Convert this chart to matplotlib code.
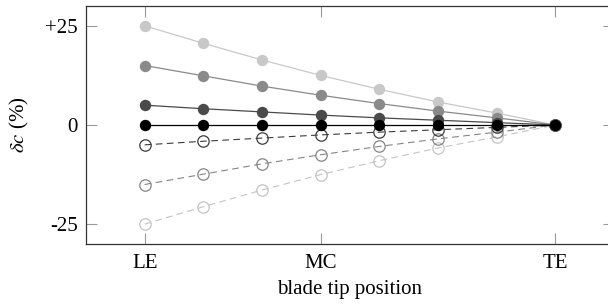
import numpy as np
import matplotlib
matplotlib.use("Agg")
import matplotlib.pyplot as plt

plt.rcParams['font.family'] = ['Liberation Serif', 'DejaVu Serif']
plt.rcParams['mathtext.fontset'] = 'stix'

# blade tip positions, LE = 0, TE = 1 (8 equally spaced stations)
pos = np.arange(8) / 7.0

# chord change (%)
dc_p25 = [25, 20.6, 16.4, 12.5, 9.0, 5.8, 3.0, 0]
dc_p15 = [15, 12.4, 9.8, 7.5, 5.4, 3.5, 1.8, 0]
dc_p05 = [5, 4.1, 3.3, 2.5, 1.8, 1.2, 0.6, 0]
dc_zero = [0, 0, 0, 0, 0, 0, 0, 0]
dc_m05 = [-5, -4.1, -3.3, -2.5, -1.8, -1.2, -0.6, 0]
dc_m15 = [-15, -12.4, -9.8, -7.5, -5.4, -3.5, -1.8, 0]
dc_m25 = [-25, -20.6, -16.4, -12.5, -9.0, -5.8, -3.0, 0]

xtick_pos = [0, 3 / 7.0, 1]
xtick_lab = ["LE", "MC", "TE"]
ytick_pos = [25, 0, -25]
ytick_lab = ["+25", "0", "-25"]

fig = plt.figure(figsize=(6.08, 3.07), dpi=100)
ax = fig.add_axes([86 / 608, 1 - 244 / 307, (614 - 86) / 608, (244 - 6) / 307])

# negative (dashed, open circles)
for vals, col in [(dc_m25, "#c4c4c4"), (dc_m15, "#858585"), (dc_m05, "#3c3c3c")]:
    ax.plot(pos, vals, color=col, lw=0.8, ls=(0, (6, 4)), marker="o", ms=8.2,
            mfc="none", mec=col, mew=0.9)

# positive and zero (solid, filled circles)
for vals, col in [(dc_p25, "#c8c8c8"), (dc_p15, "#8a8a8a"), (dc_p05, "#4a4a4a"), (dc_zero, "black")]:
    ax.plot(pos, vals, color=col, lw=0.9, marker="o", ms=8.2, mfc=col, mec=col, mew=0)

ax.set_xlim(-1 / 7.0, 1 + 1 / 7.0)
ax.set_ylim(-30, 30)

ax.set_xticks(xtick_pos)
ax.set_xticklabels(xtick_lab)
ax.set_yticks(ytick_pos)
ax.set_yticklabels(ytick_lab)

ax.tick_params(direction="in", length=8, width=0.8, color="#999999",
               top=True, right=True, labelsize=15)
ax.tick_params(axis="x", pad=7)
ax.tick_params(axis="y", pad=6)
for sp in ax.spines.values():
    sp.set_color("#333333")
    sp.set_linewidth(0.9)

ax.set_xlabel("blade tip position", fontsize=15, labelpad=5)
ax.set_ylabel(r"$\delta c$ (%)", fontsize=15, labelpad=10)

fig.savefig("out.png", dpi=100)
